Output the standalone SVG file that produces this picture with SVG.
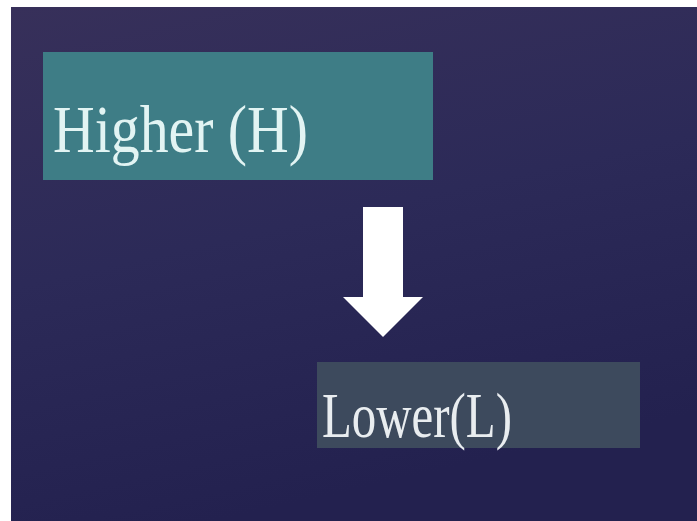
<svg xmlns="http://www.w3.org/2000/svg" width="697" height="521" viewBox="0 0 697 521">
<defs>
<linearGradient id="bg" x1="0" y1="0" x2="0.3" y2="1">
<stop offset="0" stop-color="#37305a"/>
<stop offset="0.5" stop-color="#2c2a58"/>
<stop offset="1" stop-color="#23214f"/>
</linearGradient>
</defs>
<style>
.lbl{font-family:"Liberation Serif","DejaVu Serif",serif}
</style>
<rect x="0" y="0" width="697" height="521" fill="#ffffff"/>
<rect x="11" y="7" width="686" height="514" fill="url(#bg)"/>
<g id="higher">
<rect x="43" y="52" width="390" height="128" fill="#3e7d86"/>
<text class="lbl" x="53" y="152" font-size="68" fill="#e2f4f3" textLength="255" lengthAdjust="spacingAndGlyphs">Higher (H)</text>
</g>
<g id="connectors">
<polygon points="363,207 403,207 403,297 423,297 383,337 343,297 363,297" fill="#ffffff"/>
</g>
<g id="lower">
<rect x="317" y="362" width="323" height="86" fill="#3d4a5d"/>
<text class="lbl" x="322" y="437" font-size="64" fill="#e9edf0" textLength="190" lengthAdjust="spacingAndGlyphs">Lower(L)</text>
</g>
</svg>
